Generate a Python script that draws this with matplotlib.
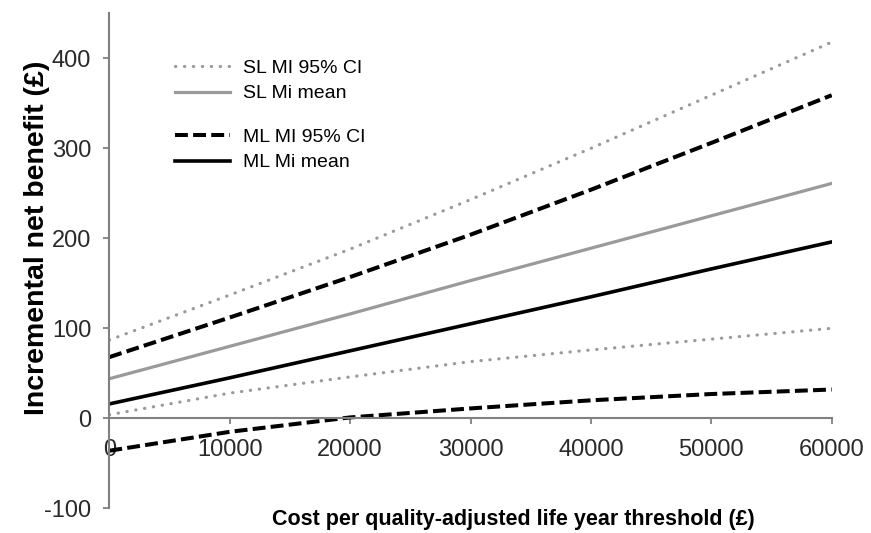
import matplotlib
matplotlib.use("Agg")
import matplotlib.pyplot as plt

# ---- data ----
thresholds = [0, 10000, 20000, 30000, 40000, 50000, 60000]
sl_ci_upper = [87, 137, 188, 243, 300, 359, 418]
sl_mean = [44, 80, 116, 153, 189, 225, 261]
sl_ci_lower = [4, 28, 46, 63, 76, 88, 100]
ml_ci_upper = [68, 112, 157, 204, 254, 306, 359]
ml_mean = [16, 45, 75, 105, 135, 166, 196]
ml_ci_lower = [-36, -15, 1, 11, 20, 27, 32]

x_ticks = [0, 10000, 20000, 30000, 40000, 50000, 60000]
y_ticks = [-100, 0, 100, 200, 300, 400]

labels = ["SL MI 95% CI", "SL Mi mean", "ML MI 95% CI", "ML Mi mean"]
xlabel = "Cost per quality-adjusted life year threshold (£)"
ylabel = "Incremental net benefit (£)"

fig = plt.figure(figsize=(8.71, 5.33), dpi=100)
ax = fig.add_axes([0.1255, 0.0463, 0.8294, 0.9287])

gray = "#9a9a9a"
dot_kw = dict(color=gray, lw=2.3, linestyle=(0, (0.1, 2.7)), dash_capstyle="round")
dash_kw = dict(color="black", lw=2.9, linestyle=(0, (3.2, 1.3)))

l1, = ax.plot(thresholds, sl_ci_upper, **dot_kw)
ax.plot(thresholds, sl_ci_lower, **dot_kw)
l2, = ax.plot(thresholds, sl_mean, color=gray, lw=2.3)
l3, = ax.plot(thresholds, ml_ci_upper, **dash_kw)
ax.plot(thresholds, ml_ci_lower, **dash_kw)
l4, = ax.plot(thresholds, ml_mean, color="black", lw=2.6)

ax.set_xlim(0, 60000)
ax.set_ylim(-100, 450)
ax.set_xticks(x_ticks)
ax.set_yticks(y_ticks)
ax.set_xticklabels([str(v) for v in x_ticks])
ax.set_yticklabels([str(v) for v in y_ticks])

for s in ["top", "right"]:
    ax.spines[s].set_visible(False)
ax.spines["bottom"].set_position(("data", 0))
for s in ["left", "bottom"]:
    ax.spines[s].set_color("#808080")
    ax.spines[s].set_linewidth(1.5)
ax.tick_params(axis="both", direction="out", length=4, width=1.3, color="#808080",
               labelcolor="#2a2a2a", labelsize=17)
ax.tick_params(axis="x", pad=11)
ax.tick_params(axis="y", pad=9)
for t in ax.get_xticklabels() + ax.get_yticklabels():
    t.set_fontfamily("Liberation Sans")

fig.text(513 / 871, 1 - 519 / 533, xlabel, ha="center", va="center",
         fontsize=15.5, fontweight="bold", family="Liberation Sans")
fig.text(37 / 871, 1 - 238 / 533, ylabel, ha="center", va="center", rotation=90,
         fontsize=20.5, fontweight="bold", family="Liberation Sans")

leg_kw = dict(loc="upper left", bbox_transform=fig.transFigure, frameon=False,
              handlelength=2.85, handletextpad=0.65, labelspacing=0.42,
              borderpad=0, borderaxespad=0,
              prop={"family": "Liberation Sans", "size": 14})
leg1 = ax.legend([l1, l2], labels[:2], bbox_to_anchor=(175 / 871, 1 - 59 / 533), **leg_kw)
ax.add_artist(leg1)
ax.legend([l3, l4], labels[2:], bbox_to_anchor=(175 / 871, 1 - 128 / 533), **leg_kw)

fig.savefig("out.png", dpi=100)
